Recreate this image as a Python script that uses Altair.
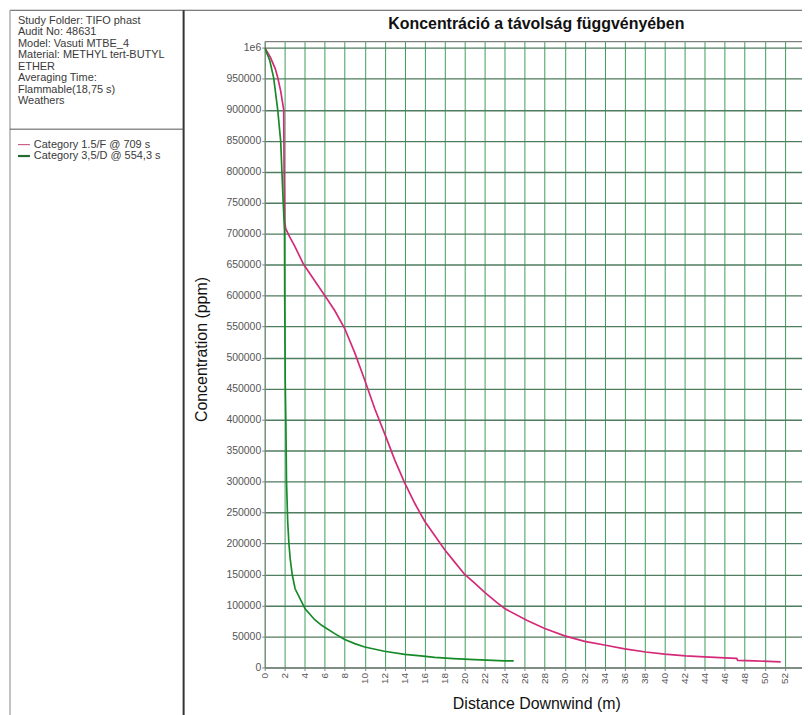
import altair as alt
import pandas as pd

# ---------------- data ----------------
info_lines = [
    "Study Folder: TIFO phast",
    "Audit No: 48631",
    "Model: Vasuti MTBE_4",
    "Material: METHYL tert-BUTYL",
    "ETHER",
    "Averaging Time:",
    "Flammable(18,75 s)",
    "Weathers",
]
series_names = ["Category 1.5/F @ 709 s", "Category 3,5/D @ 554,3 s"]
series_colors = ["#d42a78", "#168a28"]

f_dist = [0, 0.56, 1.06, 1.3, 1.6, 1.9, 1.92, 1.95, 2.0, 2.1, 2.5, 3.0, 3.87, 5.0,
          6.02, 7.0, 8.0, 9.0, 10.0, 11.0, 12.1, 13.0, 14.0, 15.0, 16.0, 17.0,
          18.0, 19.0, 20.0, 21.0, 22.0, 23.2, 24.0, 26.2, 28.0, 30.0, 32.0, 34.1,
          36.0, 38.1, 40.0, 42.1, 44.0, 46.0, 47.2, 47.3, 49.0, 51.6]
f_conc = [1000000, 985000, 966000, 952000, 930000, 900000, 850000, 780000, 720000,
          708000, 695000, 680000, 651000, 624000, 600000, 576000, 547000, 508000,
          464000, 418000, 373000, 335000, 298000, 265000, 236000, 213000, 190000,
          170000, 150000, 136000, 121000, 105000, 95000, 76000, 63000, 51000,
          42000, 35800, 30000, 25000, 21500, 18700, 17000, 15500, 14800, 11500,
          10500, 9100]

d_dist = [0, 0.5, 0.9, 1.3, 1.6, 1.8, 1.98, 2.0, 2.05, 2.12, 2.18, 2.3, 2.42, 2.55,
          2.75, 3.04, 4.04, 5.0, 5.69, 7.0, 8.0, 9.0, 10.0, 11.97, 14.0, 15.6,
          17.0, 18.9, 21.0, 24.0, 24.9]
d_conc = [1000000, 980000, 951000, 900000, 849000, 769000, 705000, 600000, 464000,
          390000, 300000, 235000, 200000, 175000, 150000, 127000, 94700, 77000,
          68000, 54600, 45000, 38500, 33000, 26200, 21000, 18700, 16200, 14400,
          12500, 10700, 10500]

x_ticks = list(range(0, 54, 2))
y_ticks = list(range(0, 1000001, 50000))

# ---------------- tables ----------------
rows = []
for i, (d, c) in enumerate(zip(f_dist, f_conc)):
    rows.append({"series": series_names[0], "dist": d, "conc": c, "i": i})
for i, (d, c) in enumerate(zip(d_dist, d_conc)):
    rows.append({"series": series_names[1], "dist": d, "conc": c, "i": i})
df = pd.DataFrame(rows)

FONT = "Liberation Sans"
one = pd.DataFrame({"k": [0]})

x_enc = alt.X(
    "dist:Q",
    scale=alt.Scale(domain=[0, 53.73], nice=False, zero=False),
    axis=alt.Axis(
        values=x_ticks, title="Distance Downwind (m)", labelAngle=270,
        labelFontSize=10, labelColor="#555555", labelFont=FONT, labelPadding=2,
        tickSize=3, tickColor="#808080", domainColor="#808080",
        gridColor="#3d9e5c", gridWidth=1, grid=True,
        titleFont=FONT, titleFontSize=16, titleFontWeight="normal", titleColor="#111111",
        titleX=273, titleY=41, titleBaseline="alphabetic", titleAlign="center",
        labelOverlap=False, labelFlush=False,
    ),
)
y_enc = alt.Y(
    "conc:Q",
    scale=alt.Scale(domain=[0, 1010000], nice=False, zero=True),
    axis=alt.Axis(
        values=y_ticks, title="Concentration (ppm)",
        labelExpr="datum.value >= 1000000 ? '1e6' : format(datum.value, 'd')",
        labelFontSize=10.5, labelColor="#555555", labelFont=FONT, labelPadding=1,
        tickSize=3, tickColor="#808080", domainColor="#808080",
        gridColor="#4f7d5f", gridWidth=1.4, grid=True,
        titleFont=FONT, titleFontSize=16, titleFontWeight="normal", titleColor="#111111",
        titleX=-63, titleY=309, titleAngle=270, titleAlign="center",
        titleBaseline="middle", labelOverlap=False, labelFlush=False,
    ),
)

lines = alt.Chart(df).mark_line(strokeWidth=1.7, clip=True).encode(
    x=x_enc,
    y=y_enc,
    color=alt.Color("series:N", scale=alt.Scale(domain=series_names, range=series_colors),
                    legend=None),
    order="i:Q",
)


def rule(x1, x2, y1, y2, color, width=1):
    return alt.Chart(one).mark_rule(color=color, strokeWidth=width).encode(
        x=alt.value(x1), x2=alt.value(x2), y=alt.value(y1), y2=alt.value(y2)
    )


decor = [
    rule(0, 560, 0, 0, "#808080", 1.2),            # plot top border
    rule(-256, 560, -31.5, -31.5, "#555555", 1),   # outer top border
    rule(-256, -256, -31.5, 700, "#9a9a9a", 1.2),  # panel left border
    rule(-81.5, -81.5, -31.5, 700, "#333333", 2),  # panel right border
    rule(-256, -81.5, 88, 88, "#555555", 1),       # separator
    rule(-248, -236, 103.5, 103.5, "#c8608a", 1.2),
    rule(-248, -236, 115, 115, "#1f6b32", 2.2),
]

info = alt.Chart(one).mark_text(
    align="left", baseline="middle", font=FONT, fontSize=11, color="#3a3a3a",
    lineBreak="\n", lineHeight=11.6,
).encode(x=alt.value(-248), y=alt.value(-21), text=alt.value("\n".join(info_lines)))

legend_txt = alt.Chart(one).mark_text(
    align="left", baseline="middle", font=FONT, fontSize=11, color="#3a3a3a",
    lineBreak="\n", lineHeight=11.5,
).encode(x=alt.value(-232), y=alt.value(103.5), text=alt.value("\n".join(series_names)))

title = alt.Chart(one).mark_text(
    align="center", baseline="alphabetic", font=FONT, fontSize=16, fontWeight="bold",
    color="#111111",
).encode(x=alt.value(273), y=alt.value(-13),
         text=alt.value("Koncentráció a távolság függvényében"))

chart = alt.layer(lines, *decor, info, legend_txt, title).properties(
    width=540, height=629,
    padding={"left": 258, "top": 32, "right": 0, "bottom": 46},
    autosize=alt.AutoSizeParams(type="none"),
    background="white",
).configure_view(stroke=None)

chart.save("out.html", embed_options={"renderer": "svg", "actions": False})
